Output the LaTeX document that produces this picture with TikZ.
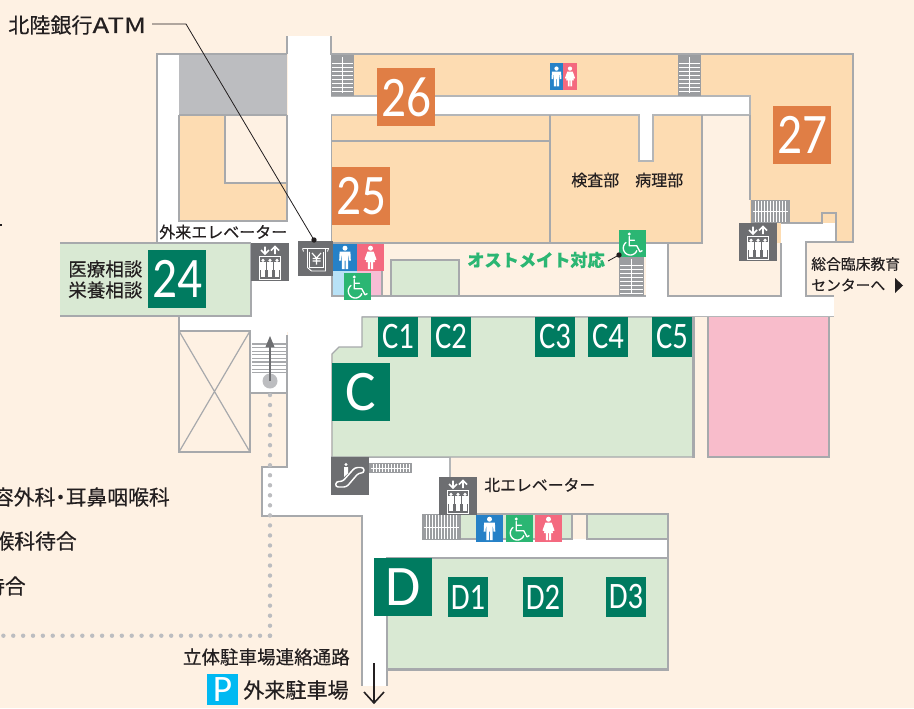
\documentclass[tikz,border=0pt]{standalone}
\usepackage{fontspec}
\setmainfont[RawFeature={embolden=0.35}]{Noto Sans CJK JP}
\newfontfamily\badgefont{Carlito}
\definecolor{bgc}{HTML}{FEF1E3}
\definecolor{orc}{HTML}{FDDCB2}
\definecolor{grc}{HTML}{D9E9D3}
\definecolor{bgreen}{HTML}{007B60}
\definecolor{bor}{HTML}{E07E45}
\definecolor{gyc}{HTML}{BCBDC0}
\definecolor{wallc}{HTML}{A7A9AC}
\definecolor{pkc}{HTML}{F8BCCB}
\definecolor{dkc}{HTML}{6D6E71}
\definecolor{manc}{HTML}{2681C7}
\definecolor{womc}{HTML}{F4697F}
\definecolor{whc}{HTML}{2BB673}
\definecolor{lblue}{HTML}{B8E2F7}
\definecolor{lpk}{HTML}{F7BDD5}
\definecolor{pkblue}{HTML}{00B9F2}
\definecolor{stc}{HTML}{9B9DA0}
\definecolor{txc}{HTML}{231F20}
\newcommand{\vstair}[4]{%
  \fill[stc] (#1,#2) rectangle (#3,#4);
  \foreach \q in {0,...,7}{\draw[white,line width=.6pt] (#1+1,#2+8+\q*4) -- (#3-1,#2+8+\q*4);}
  \draw[white,line width=.5pt] ({(#1+#3)/2},#2+2) -- ({(#1+#3)/2},#4-3);
}
\newcommand{\hstair}[5]{%
  \fill[stc] (#1,#2) rectangle (#3,#4);
  \foreach \q in {0,...,#5}{\draw[white,line width=.6pt] (#1+4+\q*3,#2+1) -- (#1+4+\q*3,#4-1);}
  \draw[white,line width=.5pt] (#1+2,{(#2+#4)/2}) -- (#3-2,{(#2+#4)/2});
}
\newcommand{\narrownum}[1]{\scalebox{.86}[1]{#1}}
\tikzset{
  wall/.style={draw=wallc,line width=1.6pt,line join=miter},
  midwall/.style={draw=wallc!85,line width=1.1pt},
  thinwall/.style={draw=wallc,line width=.9pt},
  badge/.style={inner sep=0pt,minimum size=43.5pt,text=white,font=\badgefont\fontsize{43}{43}\selectfont},
  smallbadge/.style={inner sep=0pt,minimum size=30pt,fill=bgreen,text=white,font=\badgefont\fontsize{28}{28}\selectfont},
  lbl/.style={inner sep=0pt,text=txc},
  manfig/.pic={
    \fill[white] (0,-9.3) circle (2.5);
    \fill[white] (-5.4,-5.8) -- (5.4,-5.8) -- (5.8,3) -- (4,3) -- (3.6,-2) -- (3.2,-2) -- (3.2,11.5) -- (.5,11.5) -- (.5,3) -- (-.5,3) -- (-.5,11.5) -- (-3.2,11.5) -- (-3.2,-2) -- (-3.6,-2) -- (-4,3) -- (-5.8,3) -- cycle;
  },
  womfig/.pic={
    \fill[white] (0,-9.3) circle (2.5);
    \fill[white] (-3.2,-5.8) -- (3.2,-5.8) -- (6,2) -- (4.4,2.6) -- (2.8,-1) -- (4.6,4.5) -- (2.6,4.5) -- (2.6,11.5) -- (.5,11.5) -- (.5,4.5) -- (-.5,4.5) -- (-.5,11.5) -- (-2.6,11.5) -- (-2.6,4.5) -- (-4.6,4.5) -- (-2.8,-1) -- (-4.4,2.6) -- (-6,2) -- cycle;
  },
  wheelfig/.pic={
    \fill[white] (-3.3,-9.5) circle (1.6);
    \draw[white,line width=1pt,line cap=round,line join=round] (-3.3,-7) -- (-3.3,2.3) -- (4.3,2.3) -- (7.5,8.3) -- (9.6,7.2) (-3.3,-3.3) -- (2,-3.3);
    \draw[white,line width=1pt] plot[domain=20:235,samples=30,smooth] ({-2.2+7*cos(\x)},{4.5+7*sin(\x)});
  },
  elevfig/.pic={
    \fill[dkc] (-19,-19) rectangle (19,19);
    \draw[white,line width=1.3pt] (-5,-15.5) -- (-5,-8) (-9,-12) -- (-5,-8) -- (-1,-12);
    \draw[white,line width=1.3pt] (5,-8) -- (5,-15.5) (1,-11.5) -- (5,-15.5) -- (9,-11.5);
    \draw[white,line width=.6pt] (-10.7,-5.7) rectangle (10.7,17.7);
    \foreach \q in {-7,0,7}{
      \fill[white] (\q,-1.7) circle (1.8);
      \fill[white] (\q-3,0) rectangle (\q+3,8);
      \fill[white] (\q-2,8) rectangle (\q+2,15);
    }
  },
  atmfig/.pic={
    \fill[dkc] (-17.5,-17.5) rectangle (17.5,17.5);
    \draw[white,line width=.7pt] (-13,-10) -- (13,-10) -- (12,-7) (-13,-10) -- (-12,-7);
    \draw[white,line width=.7pt] (-8,-10) -- (-8,9) -- (-4,12.5) -- (10,12.5) -- (10,-10);
    \draw[white,line width=.7pt] (-6,-7) -- (-6,9) -- (8,9) -- (8,-7);
    \draw[white,line width=.9pt] (-3.5,-5.5) -- (1,-.5) -- (5.5,-5.5) (1,-.5) -- (1,6) (-3,0) -- (5,0) (-3,2.5) -- (5,2.5);
  },
  escfig/.pic={
    \fill[dkc] (-19,-19) rectangle (19,19);
    \draw[white,line width=1.1pt,rounded corners=2pt] (-14,5.5) -- (-7.5,5.5) -- (5,-8.5) -- (14,-8.5) -- (14,-3) -- (8.5,-3) -- (-3.5,11) -- (-14.5,11) -- cycle;
    \fill[white] (-4,-11.5) circle (1.6);
    \fill[white] (-6,-9) -- (-2,-9) -- (-2,-2.5) -- (-6,1) -- cycle;
  }
}
\begin{document}
\begin{tikzpicture}[x=.75pt,y=-.75pt]
\useasboundingbox (0,0) rectangle (914,708);
\clip (0,0) rectangle (914,708);
\fill[bgc] (0,0) rectangle (914,708);
% corridors
\fill[white] (288,36) rectangle (331,516);
\fill[white] (158,55) rectangle (179,243);
\fill[white] (158,221) rectangle (288,243);
\fill[white] (331,96) rectangle (750,115);
\fill[white] (639,115) rectangle (653,161);
\fill[white] (179,316) rectangle (251,331);
\fill[white] (251,243) rectangle (331,332);
\fill[white] (251,297) rectangle (834,316);
\fill[white] (331,297) rectangle (362,354);
\fill[white] (646,243) rectangle (668,297);
\fill[white] (781,223) rectangle (805,297);
\fill[white] (781,223) rectangle (822,243);
\fill[white] (822,213) rectangle (836,243);
\fill[white] (288,457) rectangle (450,516);
\fill[white] (262,467) rectangle (288,516);
\fill[white] (362,516) rectangle (422,539);
\fill[white] (362,516) rectangle (387,686);
\fill[white] (362,539) rectangle (667,558);
% top-left block
\fill[gyc] (179,55) rectangle (287,115);
\fill[orc] (179,115) rectangle (287,221);
\fill[bgc] (225,116) rectangle (287,183);
\draw[wall] (179,115) -- (287,115);
\draw[wall] (225,116) -- (225,183) -- (287,183);
\draw[thinwall] (179,115) -- (179,221) -- (287,221) -- (287,115);
\draw[wall] (287,36) -- (287,54);
\draw[wall] (157,243) -- (157,54) -- (287,54);
\draw[wall] (60,243) -- (157,243);
% top-right block
\fill[orc] (332,55) rectangle (853,96);
\fill[orc] (750,55) rectangle (853,223);
\fill[orc] (836,213) rectangle (853,242);
\fill[orc] (777,200) rectangle (781,243);
\fill[orc] (332,115) rectangle (702,242);
\fill[white] (639,115) rectangle (653,161);
\draw[wall] (331,36) -- (331,54) -- (853,54) -- (853,242) -- (836,242);
\draw[midwall] (331,96) -- (750,96) -- (750,115);
\draw[midwall] (331,115) -- (639,115) -- (639,161) -- (653,161) -- (653,115) -- (702,115);
\draw[midwall] (702,115) -- (750,115);
\draw[wall] (702,115) -- (702,243) -- (332,243);
\draw[wall] (750,115) -- (750,200);
\draw[thinwall] (332,141) -- (550,141);
\draw[thinwall] (550,115) -- (550,243);
\draw[thinwall] (331.5,115) -- (331.5,243);
\draw[thinwall] (781,223) -- (822,223) -- (822,213) -- (836,213) -- (836,242);
\draw[wall] (668,243) -- (702,243);
\draw[wall] (668,243) -- (668,296) -- (781,296) -- (781,243);
\draw[wall] (836,242) -- (806,242) -- (806,296) -- (834,296);
% toilets and small room row
\fill[lblue] (333,271) rectangle (357,296);
\fill[lpk] (357,271) rectangle (381,296);
\fill[grc] (391,260) rectangle (459,296);
\draw[wall] (391,296) -- (391,260) -- (459,260) -- (459,296);
\draw[wall] (332,243) -- (332,296) -- (646,296);
\draw[thinwall] (382,243) -- (382,296);
% room 24
\fill[grc] (60,243) rectangle (251,316);
\draw[wall] (60,243) -- (251,243);
\draw[wall] (60,316) -- (251,316) -- (251,243);
% void
\draw[wall] (179,316) -- (179,331) -- (250,331);
\draw[thinwall] (179,331) rectangle (250,452);
\draw[thinwall] (179,331) -- (250,452) (250,331) -- (179,452);
% stairs with arrow
\fill[white] (251,332) rectangle (287,393);
\draw[thinwall] (287,335) -- (287,393);
\foreach \q in {0,...,8}{\draw[wallc,line width=.8pt] (252,344+\q*3.6) -- (287,344+\q*3.6);}
\draw[wall,line width=2pt] (250,331) -- (250,393) -- (287,393) -- (287,467) -- (262,467) -- (262,516) -- (362,516) -- (362,686);
\draw[midwall] (331,457) -- (450,457) -- (450,478);
% C room
\fill[grc] (362,317) -- (693,317) -- (693,457) -- (332,457) -- (332,354) -- (339,347) -- (362,347) -- cycle;
\draw[thinwall] (362,347) -- (362,317) -- (693,317) -- (693,457) -- (332,457) -- (332,354) -- (339,347) -- (362,347);
\draw[midwall] (362,316.5) -- (834,316.5);
\draw[wall] (693.5,317) -- (693.5,458);
% pink room
\fill[pkc] (708,317) rectangle (828,457);
\draw[thinwall] (708,317) -- (708,457) -- (828,457);
\draw[wall] (829,317) -- (829,458);
% D room
\fill[grc] (387,558) rectangle (668,669);
\fill[grc] (461,515) rectangle (572,539);
\fill[grc] (588,515) rectangle (668,539);
\draw[wall] (461,514) -- (668,514) -- (668,669.5) -- (387,669.5) -- (387,686);
\draw[thinwall] (387,669) -- (387,558) -- (668,558);
\draw[thinwall] (461,539) -- (572,539) -- (572,515);
\draw[thinwall] (587,515) -- (587,539) -- (668,539);
% stairs
\vstair{331}{55}{354}{96}
\vstair{678}{55}{701}{96}
\vstair{619}{257}{644}{296}
\hstair{751}{200}{790}{223}{10}
\hstair{422}{514}{461}{540}{10}
\hstair{369}{463}{412}{473}{12}
% icons
\fill[manc] (333,244) rectangle (357,271);
\pic at (345,257.5) {manfig};
\fill[womc] (357,244) rectangle (384,271);
\pic at (370.5,257.5) {womfig};
\fill[whc] (344,273) rectangle (371,300);
\pic at (357.5,286.5) {wheelfig};
\fill[manc] (550,63) rectangle (563,90);
\pic[scale=.85] at (556.5,76.5) {manfig};
\fill[womc] (563,63) rectangle (577,90);
\pic[scale=.85] at (570,76.5) {womfig};
\fill[whc] (619,230) rectangle (646,257);
\pic at (632.5,243.5) {wheelfig};
\fill[manc] (476,515) rectangle (503,542);
\pic at (489.5,528.5) {manfig};
\fill[whc] (506,515) rectangle (533,542);
\pic at (519.5,528.5) {wheelfig};
\fill[womc] (535,515) rectangle (562,542);
\pic at (548.5,528.5) {womfig};
\pic at (270,262) {elevfig};
\pic at (758,242) {elevfig};
\pic at (458,496) {elevfig};
\pic at (315.5,258.5) {atmfig};
\pic at (350,476) {escfig};
% stair arrow and dotted route
\coordinate (stairfoot) at (270,381);
\coordinate (stairtop) at (270,336);
\fill[gyc] (stairfoot) circle (7.5);
\draw[dkc,line width=.8pt] (stairfoot) -- (270,345);
\fill[dkc] (stairtop) -- (274.5,347) -- (265.5,347) -- cycle;
\foreach \q in {0,...,24}{\fill[gyc] (270,395+\q*10.03) circle (2.2);}
\foreach \q in {0,...,27}{\fill[gyc] (3.4+\q*9.87,635.7) circle (2.2);}
% badges
\node[badge,fill=bgreen] (b24) at (177,279) {\narrownum{24}};
\node[badge,fill=bor] (b25) at (361,196) {\narrownum{25}};
\node[badge,fill=bor] (b26) at (406,97) {\narrownum{26}};
\node[badge,fill=bor] (b27) at (802,135) {\narrownum{27}};
\node[badge,fill=bgreen] (bC) at (361,392) {C};
\node[badge,fill=bgreen] (bD) at (403,587) {D};
\node[smallbadge] (c1) at (398,337) {\scalebox{.82}[1]{C1}};
\node[smallbadge] (c2) at (451,337) {\scalebox{.82}[1]{C2}};
\node[smallbadge] (c3) at (555,337) {\scalebox{.82}[1]{C3}};
\node[smallbadge] (c4) at (608,337) {\scalebox{.82}[1]{C4}};
\node[smallbadge] (c5) at (672,337) {\scalebox{.82}[1]{C5}};
\node[smallbadge] (d1) at (468,597) {\scalebox{.82}[1]{D1}};
\node[smallbadge] (d2) at (543,597) {\scalebox{.82}[1]{D2}};
\node[smallbadge] (d3) at (626,597) {\scalebox{.82}[1]{D3}};
% labels
\node[lbl,anchor=west,font=\fontsize{15.8}{16}\selectfont] (atmtxt) at (8,25) {北陸銀行\scalebox{1.3}[1]{ATM}};
\coordinate (atmstart) at (152,24);
\coordinate (atmbend) at (186,24);
\coordinate (atmpt) at (314,240);
\draw[txc,line width=.6pt] (atmstart) -- (atmbend) -- (atmpt);
\fill[txc] (atmpt) circle (2.7);
\node[lbl,anchor=west,font=\fontsize{12}{12}\selectfont] (gaiev) at (159,232) {外来エレベーター};
\node[lbl,anchor=west,font=\fontsize{13.9}{14}\selectfont] (iryo) at (68,269) {医療相談};
\node[lbl,anchor=west,font=\fontsize{13.9}{14}\selectfont] (eiyo) at (68,290) {栄養相談};
\node[lbl,anchor=west,font=\fontsize{12}{12}\selectfont] (kensa) at (571,180) {検査部};
\node[lbl,anchor=west,font=\fontsize{12}{12}\selectfont] (byori) at (635,180) {病理部};
\node[lbl,anchor=west,text=whc,font=\bfseries\fontsize{12.9}{13}\selectfont] (osto) at (467,260) {オストメイト対応};
\coordinate (ostopt) at (619,255);
\coordinate (ostoend) at (608,261);
\draw[txc,line width=.6pt] (ostoend) -- (ostopt);
\fill[txc] (ostopt) circle (2.7);
\node[lbl,anchor=west,font=\fontsize{11.1}{11}\selectfont] (sogo) at (811,264) {総合臨床教育};
\node[lbl,anchor=west,font=\fontsize{11.1}{11}\selectfont] (center) at (811,285) {センターへ};
\fill[txc] (895,278) -- (903,285.5) -- (895,293) -- cycle;
\node[lbl,anchor=west,font=\fontsize{11.9}{12}\selectfont] (kitaev) at (484,485) {北エレベーター};
\node[lbl,anchor=east,font=\fontsize{15.6}{16}\selectfont] (lineA) at (170,497) {容外科\hspace{-.25em}・\hspace{-.25em}耳鼻咽喉科};
\node[lbl,anchor=east,font=\fontsize{15.6}{16}\selectfont] (lineB) at (77,541) {喉科待合};
\node[lbl,anchor=east,font=\fontsize{15.6}{16}\selectfont] (lineC) at (26,586) {待合};
\node[lbl,anchor=east,font=\fontsize{13.9}{14}\selectfont] (ritsu) at (350,657) {立体駐車場連絡通路};
\node[inner sep=0pt,minimum size=23.25pt,fill=pkblue,text=white,font=\badgefont\fontsize{28}{28}\selectfont] (pk) at (222.5,689.5) {P};
\node[lbl,anchor=west,font=\fontsize{15.8}{16}\selectfont] (gaip) at (243,690) {外来駐車場};
% exit arrow
\coordinate (extop) at (374,663);
\coordinate (exbot) at (374,703);
\draw[txc,line width=1.2pt,line join=miter] (extop) -- (exbot) (364,692) -- (exbot) -- (384,692);
\fill[txc] (0,224) rectangle (2,226);
\end{tikzpicture}
\end{document}
